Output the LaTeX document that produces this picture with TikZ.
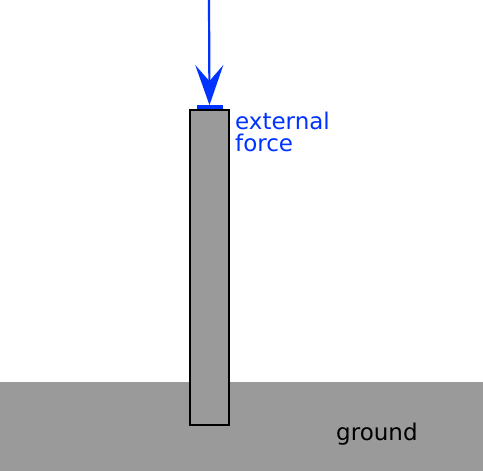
\documentclass[tikz,border=0pt]{standalone}
\usepackage{fontspec}
\setmainfont{DejaVu Sans}
\usetikzlibrary{arrows.meta,positioning}
\definecolor{forceblue}{RGB}{0,51,255}
\definecolor{groundgray}{RGB}{154,154,154}

\begin{document}
\begin{tikzpicture}[x=1pt,y=-1pt,
	column/.style={draw,line width=2pt,fill=groundgray,minimum width=39pt,minimum height=315pt,inner sep=0pt},
	pad/.style={fill=forceblue,minimum width=26pt,minimum height=3.5pt,inner sep=0pt},
	label/.style={font=\fontsize{23}{23}\selectfont,inner sep=0pt,align=left}]
	\useasboundingbox (0,0) rectangle (483,471);
	% ground
	\fill[groundgray] (0,382) rectangle (483,471);
	\node[column] (col) at (209.5,267.5) {};
	\node[pad, above=0pt of col.north] (pad) {};
	\coordinate (src) at (209,0);
	\draw[-{Stealth[length=40pt,width=28pt,inset=16pt]},line width=2.2pt,forceblue] (src) -- (pad.north);
	% labels
	\node[label,text=forceblue,anchor=base west] (ext) at (235,129) {external};
	\node[label,text=forceblue,anchor=base west] (frc) at (235,151) {force};
	\node[label,anchor=base west] (gnd) at (336,440) {ground};
\end{tikzpicture}
\end{document}
